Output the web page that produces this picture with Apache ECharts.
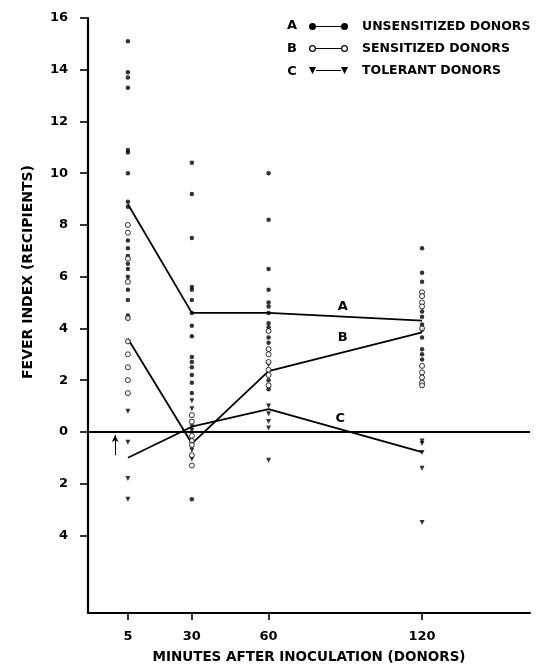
<!DOCTYPE html>
<html>
<head>
<meta charset="utf-8">
<script src="https://cdn.jsdelivr.net/npm/echarts@6/dist/echarts.min.js"></script>
<style>html,body{margin:0;padding:0;background:#fff}#c{width:548px;height:672px}</style>
</head>
<body>
<div id="c"></div>
<script>
// ---- data ----
const minutes = [5, 30, 60, 120];
const yTicks = [16, 14, 12, 10, 8, 6, 4, 2, 0, -2, -4];
const meanA = [8.8, 4.6, 4.6, 4.3];
const meanB = [3.6, -0.45, 2.35, 3.85];
const meanC = [-1.0, 0.2, 0.88, -0.78];

const A5 = [15.1, 13.9, 13.7, 13.3, 10.9, 10.8, 10.0, 8.9, 8.7, 7.4, 7.1, 6.8, 6.5, 6.3, 6.0, 5.5, 5.1, 4.5, 4.4];
const B5 = [8.0, 7.7, 6.7, 5.8, 4.4, 3.5, 3.0, 2.5, 2.0, 1.5];
const C5 = [0.8, -0.4, -1.8, -2.6];
const A30 = [10.4, 9.2, 7.5, 5.6, 5.5, 5.1, 4.6, 4.1, 3.7, 2.9, 2.7, 2.5, 2.2, 1.9, 1.5, -2.6];
const B30 = [0.65, 0.4, -0.15, -0.35, -0.5, -0.9, -1.3];
const C30 = [1.2, 0.9, 0.2, 0.05, -0.7, -1.05];
const A60 = [10.0, 8.2, 6.3, 5.5, 5.0, 4.85, 4.6, 4.2, 4.05, 3.65, 3.45, 2.0, 1.65];
const B60 = [3.9, 3.2, 3.0, 2.7, 2.4, 2.2, 1.8];
const C60 = [2.6, 1.0, 0.7, 0.4, 0.15, -1.1];
const A120 = [7.1, 6.15, 5.8, 4.65, 4.45, 4.15, 3.95, 3.65, 3.2, 3.0, 2.8];
const B120 = [5.4, 5.25, 5.0, 4.85, 4.0, 2.55, 2.3, 2.1, 1.9, 1.8];
const C120 = [-0.35, -0.45, -0.8, -1.4, -3.5];

const seriesNames = ['UNSENSITIZED DONORS', 'SENSITIZED DONORS', 'TOLERANT DONORS'];
const seriesLetters = ['A', 'B', 'C'];
const lineLabelPos = [[89, 4.85], [89, 3.65], [88, 0.5]];

// ---- build ----
function pts(cols) {
  const out = [];
  cols.forEach((vals, i) => vals.forEach(v => out.push([minutes[i], v])));
  return out;
}
const ptsA = pts([A5, A30, A60, A120]);
const ptsB = pts([B5, B30, B60, B120]);
const ptsC = pts([C5, C30, C60, C120]);
const zip = arr => arr.map((v, i) => [minutes[i], v]);

const FONT = 'DejaVu Sans';
const txt = {fontFamily: FONT, fontWeight: 'bold', color: '#000'};

const iconA = 'path://M0,3.5 A3.5,3.5 0 1,0 7,3.5 A3.5,3.5 0 1,0 0,3.5 Z M7,2.9 L32,2.9 L32,4.1 L7,4.1 Z M32,3.5 A3.5,3.5 0 1,0 39,3.5 A3.5,3.5 0 1,0 32,3.5 Z';
const iconB = 'path://M0,3.5 A3.5,3.5 0 1,0 7,3.5 A3.5,3.5 0 1,0 0,3.5 Z M1.2,3.5 A2.3,2.3 0 1,1 5.8,3.5 A2.3,2.3 0 1,1 1.2,3.5 Z M7,2.9 L32,2.9 L32,4.1 L7,4.1 Z M32,3.5 A3.5,3.5 0 1,0 39,3.5 A3.5,3.5 0 1,0 32,3.5 Z M33.2,3.5 A2.3,2.3 0 1,1 37.8,3.5 A2.3,2.3 0 1,1 33.2,3.5 Z';
const iconC = 'path://M0,0 L7,0 L3.5,7 Z M7,2.9 L32,2.9 L32,4.1 L7,4.1 Z M32,0 L39,0 L35.5,7 Z';

function lineSeries(idx, data) {
  return {
    name: seriesNames[idx], type: 'line', data: zip(data), symbol: 'none',
    lineStyle: {color: '#000', width: 1.8}, itemStyle: {color: '#000'}, z: 3,
    markPoint: {
      symbol: 'circle', symbolSize: 0, silent: true,
      label: {show: true, position: 'inside', formatter: seriesLetters[idx], ...txt, fontSize: 13},
      data: [{coord: lineLabelPos[idx]}]
    }
  };
}

const option = {
  animation: false,
  backgroundColor: '#fff',
  grid: {left: 88, right: 18, top: 18, bottom: 59, containLabel: false},
  legend: {
    orient: 'vertical', left: 309, top: 20, itemWidth: 39, itemHeight: 7, itemGap: 9,
    padding: 0,
    selectedMode: false,
    itemStyle: {color: '#000', borderWidth: 0},
    textStyle: {...txt, fontSize: 12.5, padding: [0, 0, 0, 9]},
    data: [
      {name: seriesNames[0], icon: iconA},
      {name: seriesNames[1], icon: iconB},
      {name: seriesNames[2], icon: iconC}
    ]
  },
  graphic: [
    {type: 'text', x: 28, y: 272, rotation: Math.PI / 2,
     style: {text: 'FEVER INDEX (RECIPIENTS)', fill: '#000', font: 'bold 14px "' + FONT + '"', align: 'center', verticalAlign: 'middle'}},
    {type: 'text', x: 292, y: 26, style: {text: 'A', fill: '#000', font: 'bold 13px "' + FONT + '"', align: 'center', verticalAlign: 'middle'}},
    {type: 'text', x: 292, y: 49, style: {text: 'B', fill: '#000', font: 'bold 13px "' + FONT + '"', align: 'center', verticalAlign: 'middle'}},
    {type: 'text', x: 292, y: 72, style: {text: 'C', fill: '#000', font: 'bold 13px "' + FONT + '"', align: 'center', verticalAlign: 'middle'}}
  ],
  xAxis: {
    type: 'value', min: -10.6, max: 162.2,
    name: 'MINUTES AFTER INOCULATION (DONORS)', nameLocation: 'middle', nameGap: 37,
    nameTextStyle: {...txt, fontSize: 13.5},
    axisLine: {onZero: false, lineStyle: {color: '#000', width: 2.2}},
    axisTick: {show: true, customValues: minutes, length: 7, lineStyle: {color: '#000', width: 1.6}},
    axisLabel: {customValues: minutes, ...txt, fontSize: 13, margin: 17},
    splitLine: {show: false}
  },
  yAxis: {
    type: 'value', min: -7, max: 16,
    axisLine: {show: true, onZero: false, lineStyle: {color: '#000', width: 2.2}},
    axisTick: {show: true, customValues: yTicks, length: 8, lineStyle: {color: '#000', width: 1.6}},
    axisLabel: {customValues: yTicks, formatter: v => String(Math.abs(v)), ...txt, fontSize: 13, margin: 20},
    splitLine: {show: false}
  },
  series: [
    lineSeries(0, meanA),
    lineSeries(1, meanB),
    lineSeries(2, meanC),
    {name: seriesNames[0], type: 'scatter', data: ptsA, symbol: 'circle', symbolSize: 4.5,
     itemStyle: {color: '#000'}, z: 4},
    {name: seriesNames[1], type: 'scatter', data: ptsB, symbol: 'circle', symbolSize: 5,
     itemStyle: {color: '#fff', borderColor: '#000', borderWidth: 1}, z: 5},
    {name: seriesNames[2], type: 'scatter', data: ptsC, symbol: 'triangle', symbolRotate: 180, symbolSize: 5,
     itemStyle: {color: '#000'}, z: 4,
     markLine: {
       silent: true, symbol: ['none', 'none'], label: {show: false},
       lineStyle: {color: '#000', width: 1.8, type: 'solid'},
       data: [{yAxis: 0}]
     }},
    {name: 'arrow', type: 'line', data: [],
     markLine: {
       silent: true, symbol: ['none', 'arrow'], symbolSize: [5, 7], label: {show: false},
       lineStyle: {color: '#000', width: 1, type: 'solid'},
       data: [[{coord: [0, -0.9]}, {coord: [0, -0.12]}]]
     }}
  ]
};

const chart = echarts.init(document.getElementById('c'), null, {renderer: 'canvas'});
chart.setOption(option);
</script>
</body>
</html>
